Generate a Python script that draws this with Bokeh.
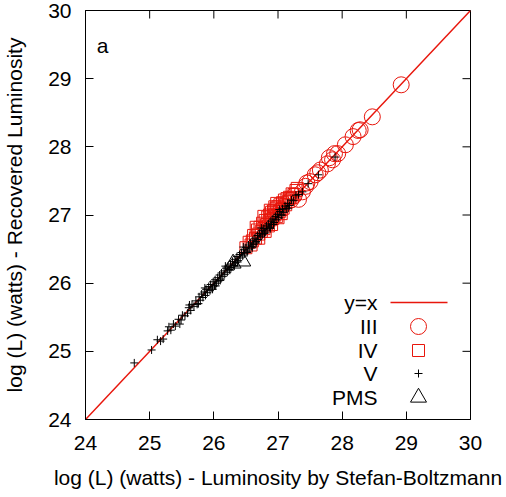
from bokeh.plotting import figure
from bokeh.models import Range1d, Label, FixedTicker
from bokeh.core.properties import value
from bokeh.embed import file_html
from bokeh.resources import INLINE

# ---------------- data ----------------
ticks = [24, 25, 26, 27, 28, 29, 30]
fit_x = [24, 30]

x_iii = [28.92, 28.47, 28.28, 28.25, 28.17, 28.05, 27.93, 27.88, 27.85, 27.80, 27.77,
         27.66, 27.62, 27.58, 27.50, 27.45, 27.43, 27.38, 27.32, 27.25, 27.20]
y_iii = [28.91, 28.44, 28.25, 28.24, 28.15, 28.03, 27.90, 27.90, 27.81, 27.84, 27.75,
         27.66, 27.62, 27.59, 27.49, 27.47, 27.42, 27.34, 27.23, 27.28, 27.22]

x_iv = [26.50, 26.55, 26.58, 26.62, 26.65, 26.68, 26.70, 26.72, 26.74, 26.76, 26.78,
        26.80, 26.82, 26.84, 26.85, 26.87, 26.88, 26.90, 26.92, 26.93, 26.95, 26.97,
        26.98, 27.00, 27.02, 27.03, 27.05, 27.07, 27.08, 27.10, 27.12, 27.14, 27.16,
        27.18, 27.20, 27.22, 27.25, 27.28, 27.30, 26.80, 26.90, 27.00, 26.70, 26.60,
        27.05, 26.88, 26.95, 26.66, 26.78, 26.98]
y_iv = [26.52, 26.60, 26.56, 26.70, 26.66, 26.78, 26.72, 26.82, 26.76, 26.88, 26.80,
        26.92, 26.86, 26.97, 26.84, 27.00, 26.93, 27.04, 26.95, 27.06, 27.00, 27.10,
        26.98, 27.12, 27.05, 27.15, 27.08, 27.18, 27.10, 27.22, 27.15, 27.24, 27.20,
        27.26, 27.25, 27.31, 27.30, 27.36, 27.39, 26.76, 26.86, 26.96, 26.66, 26.62,
        27.02, 27.07, 27.12, 26.82, 26.98, 27.17]

x_v = [24.76, 25.03, 25.12, 25.17, 25.21, 25.28, 25.33, 25.37, 25.40, 25.45, 25.49,
       25.51, 25.55, 25.59, 25.61, 25.64, 25.66, 25.69, 25.72, 25.74, 25.77, 25.79,
       25.81, 25.83, 25.85, 25.87, 25.88, 25.90, 25.92, 25.94, 25.95, 25.97, 25.99,
       26.01, 26.02, 26.04, 26.06, 26.07, 26.09, 26.11, 26.12, 26.14, 26.16, 26.17,
       26.19, 26.21, 26.22, 26.24, 26.26, 26.27, 26.29, 26.31, 26.33, 26.34, 26.36,
       26.38, 26.40, 26.41, 26.43, 26.45, 26.47, 26.48, 26.50, 26.52, 26.54, 26.55,
       26.57, 26.59, 26.61, 26.62, 26.64, 26.66, 26.68, 26.69, 26.71, 26.73, 26.75,
       26.76, 26.78, 26.80, 26.82, 26.83, 26.85, 26.87, 26.89, 26.90, 26.92, 26.94,
       26.96, 26.97, 26.99, 27.01, 27.03, 27.05, 27.07, 27.09, 27.11, 27.13, 27.15,
       27.18, 27.21, 27.24, 27.28, 27.32, 27.38, 27.47, 27.63, 27.89,
       25.98, 26.10, 26.25, 26.37, 26.52, 26.66, 26.79, 26.93, 27.06,
       25.30, 25.47, 25.62, 25.76, 25.86, 26.03, 26.18, 26.32, 26.46, 26.60, 26.74,
       26.88, 27.02, 27.16]
y_v = [24.83, 25.02, 25.17, 25.15, 25.18, 25.30, 25.31, 25.40, 25.37, 25.47, 25.46,
       25.53, 25.52, 25.56, 25.64, 25.60, 25.69, 25.66, 25.74, 25.69, 25.80, 25.75,
       25.84, 25.79, 25.87, 25.82, 25.91, 25.86, 25.95, 25.89, 25.98, 25.93, 26.02,
       25.96, 26.05, 26.00, 26.08, 26.03, 26.12, 26.06, 26.15, 26.10, 26.18, 26.13,
       26.22, 26.16, 26.25, 26.20, 26.28, 26.23, 26.32, 26.26, 26.35, 26.30, 26.39,
       26.33, 26.42, 26.37, 26.45, 26.40, 26.49, 26.43, 26.52, 26.47, 26.56, 26.50,
       26.59, 26.54, 26.63, 26.57, 26.66, 26.61, 26.70, 26.64, 26.73, 26.68, 26.77,
       26.71, 26.80, 26.75, 26.84, 26.78, 26.87, 26.82, 26.91, 26.86, 26.94, 26.89,
       26.98, 26.93, 27.01, 26.96, 27.05, 27.00, 27.09, 27.04, 27.13, 27.09, 27.17,
       27.14, 27.22, 27.21, 27.29, 27.30, 27.34, 27.46, 27.59, 27.85,
       25.91, 26.04, 26.19, 26.31, 26.45, 26.59, 26.73, 26.86, 27.00,
       25.36, 25.40, 25.68, 25.70, 25.93, 25.96, 26.25, 26.25, 26.53, 26.52, 26.81,
       26.80, 27.08, 27.10]

x_pms = [26.45, 26.30]
y_pms = [26.32, 26.29]

legend_labels = ["y=x", "III", "IV", "V", "PMS"]

# ---------------- style / layout ----------------
RED = "#e8160c"
FONT = "Liberation Sans"
FS = "21px"
W, H = 506, 497
FRAME_L, FRAME_R, FRAME_T, FRAME_B = 85, 470, 10, 419

p = figure(width=W, height=H, x_range=Range1d(24, 30), y_range=Range1d(24, 30),
           output_backend="svg", toolbar_location=None,
           min_border_left=FRAME_L, min_border_right=W - FRAME_R,
           min_border_top=FRAME_T, min_border_bottom=H - FRAME_B)
p.grid.visible = False
p.outline_line_color = "black"
p.outline_line_width = 1
p.background_fill_color = "white"
p.border_fill_color = "white"

for ax in (p.xaxis[0], p.yaxis[0]):
    ax.ticker = FixedTicker(ticks=ticks)
    ax.major_tick_in = 8
    ax.major_tick_out = 0
    ax.minor_tick_in = 0
    ax.minor_tick_out = 0
    ax.axis_line_color = "black"
    ax.major_tick_line_color = "black"
    ax.major_label_text_font = FONT
    ax.major_label_text_font_size = FS
    ax.major_label_text_color = "black"
    ax.axis_label_text_font = FONT
    ax.axis_label_text_font_size = FS
    ax.axis_label_text_font_style = "normal"
    ax.axis_label_text_color = "black"

p.xaxis[0].axis_label = "log (L) (watts) - Luminosity by Stefan-Boltzmann"
p.yaxis[0].axis_label = "log (L) (watts) - Recovered Luminosity"
p.xaxis[0].major_label_standoff = 16
p.xaxis[0].axis_label_standoff = 13
p.yaxis[0].major_label_standoff = 14
p.yaxis[0].axis_label_standoff = 19

# mirrored inward ticks on top and right (8 px long)
tick_dy = 8 * 6.0 / (FRAME_B - FRAME_T)
tick_dx = 8 * 6.0 / (FRAME_R - FRAME_L)
p.segment(x0=ticks, y0=[30] * len(ticks), x1=ticks, y1=[30 - tick_dy] * len(ticks),
          line_color="black", line_width=1)
p.segment(x0=[30] * len(ticks), y0=ticks, x1=[30 - tick_dx] * len(ticks), y1=ticks,
          line_color="black", line_width=1)

# y = x line
p.line(fit_x, fit_x, line_color=RED, line_width=1.5)

p.scatter(x_iii, y_iii, marker="circle", size=16, fill_color=None, line_color=RED, line_width=1)
p.scatter(x_iv, y_iv, marker="square", size=12, fill_color=None, line_color=RED, line_width=1)
p.scatter(x_v, y_v, marker="cross", size=8, line_color="black", line_width=1)
p.scatter(x_pms, y_pms, marker="triangle", size=16, fill_color=None, line_color="black", line_width=1)

# ---- legend (gnuplot style: text left, sample right) ----
def px2x(px):
    return 24 + (px - FRAME_L) * 6.0 / (FRAME_R - FRAME_L)

def px2y(py):
    return 30 - (py - FRAME_T) * 6.0 / (FRAME_B - FRAME_T)

rows = [302, 326, 350, 373, 397]
text_right = 377
for lab, ry in zip(legend_labels, rows):
    p.add_layout(Label(x=px2x(text_right), y=px2y(ry), text=lab, text_align="right",
                       text_baseline="middle", text_font=FONT, text_font_size=FS,
                       text_color="black"))

p.line([px2x(390), px2x(447)], [px2y(rows[0])] * 2, line_color=RED, line_width=1.5)
mx = px2x(418)
p.scatter([mx], [px2y(rows[1])], marker="circle", size=16, fill_color=None, line_color=RED)
p.scatter([mx], [px2y(rows[2])], marker="square", size=12, fill_color=None, line_color=RED)
p.scatter([mx], [px2y(rows[3])], marker="cross", size=8, line_color="black")
p.scatter([mx], [px2y(rows[4])], marker="triangle", size=16, fill_color=None, line_color="black")

p.add_layout(Label(x=px2x(102), y=px2y(45), text="a", text_align="center",
                   text_baseline="middle", text_font=FONT, text_font_size=FS,
                   text_color="black"))

open("out.html", "w").write(file_html(p, INLINE))
